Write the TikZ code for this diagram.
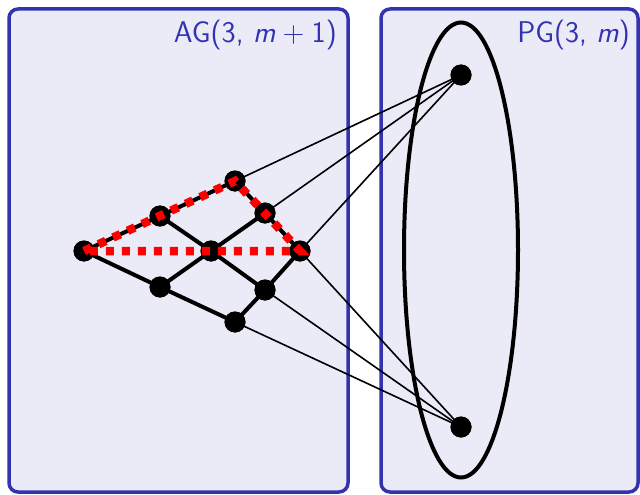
\documentclass[tikz,border=0pt]{standalone}
\usepackage{tikz}
\usetikzlibrary{shapes.geometric}
\definecolor{struct}{rgb}{0.2,0.2,0.7}
\colorlet{boxfill}{struct!10!white}
\begin{document}
\begin{tikzpicture}[x=1pt,y=-1pt,
  panel/.style={draw=struct,fill=boxfill,line width=3.5pt,rounded corners=9pt},
  title/.style={text=struct,font=\fontsize{30}{36}\selectfont\sffamily,anchor=base east,inner sep=0pt},
  pt/.style={circle,fill=black,minimum size=21pt,inner sep=0pt},
  grid/.style={line width=4pt},
  thin/.style={line width=1.6pt},
  red line/.style={draw=red,line width=8.5pt,dash pattern=on 8pt off 8pt}]
\useasboundingbox (0,0) rectangle (640,495);
\draw[panel] (9,9) rectangle (348,492);
\draw[panel] (381,9) rectangle (638,492);
\node[title] (tag) at (337,43) {AG(3, \textit{m}\hspace{0.24em}+\hspace{0.24em}1)};
\node[title] (tpg) at (630,43) {PG(3, \textit{m})};
\node[draw,ellipse,line width=4pt,minimum width=114pt,minimum height=455pt,inner sep=0pt] (ell) at (461,250) {};
% points of AG
\node[pt] (a00) at (84,251) {};
\node[pt] (a10) at (160,216) {};
\node[pt] (a20) at (235,181) {};
\node[pt] (a01) at (160,287) {};
\node[pt] (a11) at (211,251) {};
\node[pt] (a21) at (265,213) {};
\node[pt] (a02) at (235,322) {};
\node[pt] (a12) at (265,290) {};
\node[pt] (a22) at (300,251) {};
\node[pt] (p1) at (461,75) {};
\node[pt] (p2) at (461,427) {};
% thin connectors
\draw[thin] (p1.center) -- (a20.center);
\draw[thin] (p1.center) -- (a21.center);
\draw[thin] (p1.center) -- (a22.center);
\draw[thin] (p2.center) -- (a22.center);
\draw[thin] (p2.center) -- (a12.center);
\draw[thin] (p2.center) -- (a02.center);
% grid
\draw[grid] (a00.center) -- (a10.center) -- (a20.center);
\draw[grid] (a01.center) -- (a11.center) -- (a21.center);
\draw[grid] (a02.center) -- (a12.center) -- (a22.center);
\draw[grid] (a00.center) -- (a01.center) -- (a02.center);
\draw[grid] (a10.center) -- (a11.center) -- (a12.center);
\draw[grid] (a20.center) -- (a21.center) -- (a22.center);
% redraw dots on top
\foreach \n in {a00,a10,a20,a01,a11,a21,a02,a12,a22,p1,p2} \fill (\n) circle (10.5pt);
% red triangle
\draw[red line] (a00.center) -- (a20.center) -- (a22.center) -- cycle;
\end{tikzpicture}
\end{document}
